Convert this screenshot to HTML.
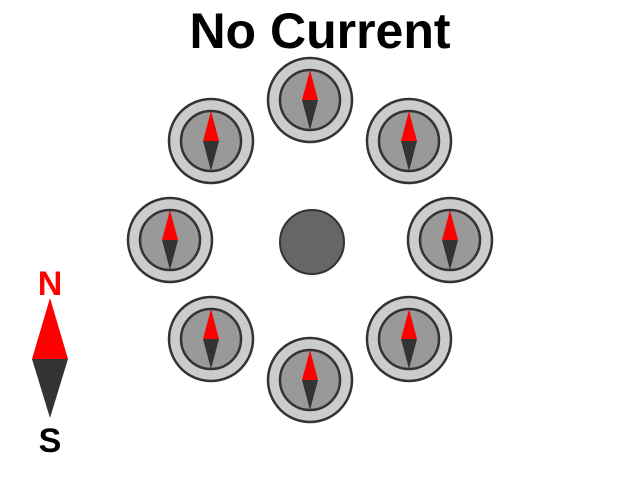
<!DOCTYPE html>
<html><head><meta charset="utf-8"><style>
body{margin:0;background:#fff;width:640px;height:480px;overflow:hidden}
svg{display:block}
text{font-family:"Liberation Sans",Arial,sans-serif;font-weight:bold}
</style></head><body>
<svg width="640" height="480" viewBox="0 0 640 480">
<text x="320" y="48" font-size="50" text-anchor="middle" fill="#000">No Current</text>
<circle cx="312" cy="242" r="32" fill="#666" stroke="#333" stroke-width="2"/>
<g id="compasses"></g>
<g>
<text x="50" y="295" font-size="34" text-anchor="middle" fill="#f00">N</text>
<polygon points="50,298 68,359 32,359" fill="#f00"/>
<polygon points="32,359 68,359 50,418" fill="#333"/>
<text x="50" y="452" font-size="34" text-anchor="middle" fill="#000">S</text>
</g>
</svg>
<script>
const angles=[0,45,90,135,180,225,270,315];
const needleDir=[0,0,0,0,0,0,0,0];
const cx=310,cy=240,R=140,ns="http://www.w3.org/2000/svg";
const g=document.getElementById('compasses');
angles.forEach((a,i)=>{
 const r=a*Math.PI/180;
 const x=cx+R*Math.sin(r), y=cy-R*Math.cos(r);
 const c=document.createElementNS(ns,'g');
 
 
 c.setAttribute('transform',`translate(${x.toFixed(1)},${y.toFixed(1)})`);
 c.innerHTML=`<circle r="42" fill="#ccc" stroke="#333" stroke-width="2.5"/>
<circle r="30" fill="#999" stroke="#333" stroke-width="2.5"/>
<g transform="rotate(${needleDir[i]})"><polygon points="0,-30 8,0 -8,0" fill="#f00"/><polygon points="-8,0 8,0 0,30" fill="#333"/></g>`;
 g.appendChild(c);
});
</script>
</body></html>
